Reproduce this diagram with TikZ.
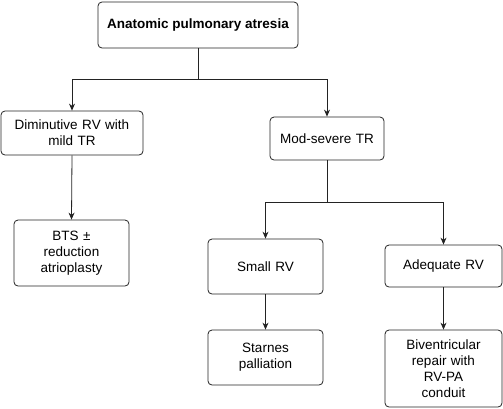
\documentclass[tikz,border=0pt]{standalone}
\usepackage{fontspec}
\setmainfont{Liberation Sans}
\usetikzlibrary{arrows.meta, positioning}
\definecolor{lineblack}{RGB}{35, 35, 35}

\begin{document}
\begin{tikzpicture}[
  x=1pt, y=1pt,
  every node/.style={font=\fontsize{13.5}{16}\selectfont, text=black},
  box/.style={draw=lineblack, line width=0.8pt, rounded corners=4pt, align=center, inner sep=0pt},
  arrow/.style={-{Stealth[length=7pt, width=6pt]}, line width=0.8pt, color=lineblack},
  link/.style={line width=0.8pt, color=lineblack}
]
  \useasboundingbox (0,0) rectangle (503,-408);

  % Wurzel
  \node[box, minimum width=200, minimum height=46, font=\fontsize{13.5}{16}\selectfont\bfseries] (root) at (198,-25) {Anatomic pulmonary atresia};

  % Erste Ebene
  \node[box, text width=142, minimum height=44] (dim) at (72,-133) {Diminutive RV with\\mild TR};
  \node[box, text width=114, minimum height=43] (mod) at (327,-138.5) {Mod-severe TR};

  % Zweite Ebene
  \node[box, text width=115, minimum height=66] (bts) at (71.5,-253) {BTS ±\\reduction\\atrioplasty};
  \node[box, text width=115, minimum height=55] (small) at (265.5,-266.5) {Small RV};
  \node[box, text width=117, minimum height=42] (adeq) at (443.5,-266) {Adequate RV};

  % Behandlung
  \node[box, text width=115, minimum height=55] (starnes) at (265.5,-357.5) {Starnes\\palliation};
  \node[box, text width=117, minimum height=77] (biv) at (443.5,-368.5) {Biventricular\\repair with\\RV-PA\\conduit};

  \coordinate (j1) at (198,-79);
  \coordinate (j2) at (327,-202);

  \draw[link] (root.south) -- (j1);
  \draw[arrow] (j1) -| (dim.north);
  \draw[arrow] (j1) -| (mod.north);
  \draw[arrow] (dim.south) -- (bts.north);
  \draw[link] (mod.south) -- (j2);
  \draw[arrow] (j2) -| (small.north);
  \draw[arrow] (j2) -| (adeq.north);
  \draw[arrow] (small.south) -- (starnes.north);
  \draw[arrow] (adeq.south) -- (biv.north);

\end{tikzpicture}
\end{document}
